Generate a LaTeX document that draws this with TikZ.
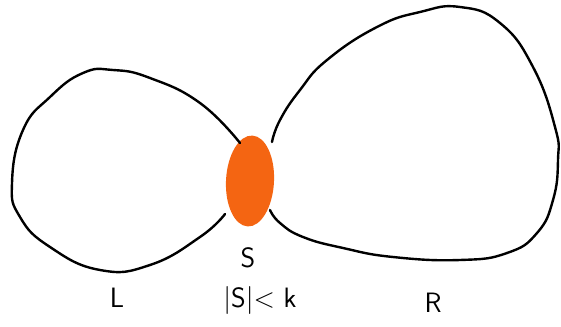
\documentclass[tikz,border=0pt]{standalone}
\usepackage{amsmath,amssymb}
\usepackage{tikz}
\usepackage{xcolor}
\usetikzlibrary{shapes.geometric}
\definecolor{sepcolor}{HTML}{F46512}

\begin{document}
\begin{tikzpicture}[x=1pt,y=-1pt,
  blob/.style={line width=2.4pt,line cap=round,line join=round},
  lbl/.style={font=\sffamily\fontsize{28}{32}\selectfont,inner sep=0pt}]
\useasboundingbox (0,0) rectangle (561,326);

\node[ellipse,fill=sepcolor,minimum width=48pt,minimum height=91pt,inner sep=0pt,rotate=-3] (sep) at (250,181) {};

\draw[blob] plot[smooth,tension=0.8] coordinates {(240,143) (200,103) (150,78) (113,70) (83,73) (50,97) (23,130) (12,183) (20,217) (50,247) (100,270) (150,265) (200,237) (225,214)};

\draw[blob] plot[smooth,tension=0.8] coordinates {(272,142) (280,120) (300,90) (327,60) (377,27) (420,12) (460,7) (500,23) (533,67) (555,127) (558,160) (553,200) (537,233) (507,253) (460,260) (393,257) (343,248) (303,237) (280,223) (270,210)};

\node[lbl] (seplbl) at (248,258) {S};
\node[lbl] (bound) at (260,300) {|S|< k};
\node[lbl] (left) at (117,298) {L};
\node[lbl] (right) at (433,303) {R};
\end{tikzpicture}
\end{document}
